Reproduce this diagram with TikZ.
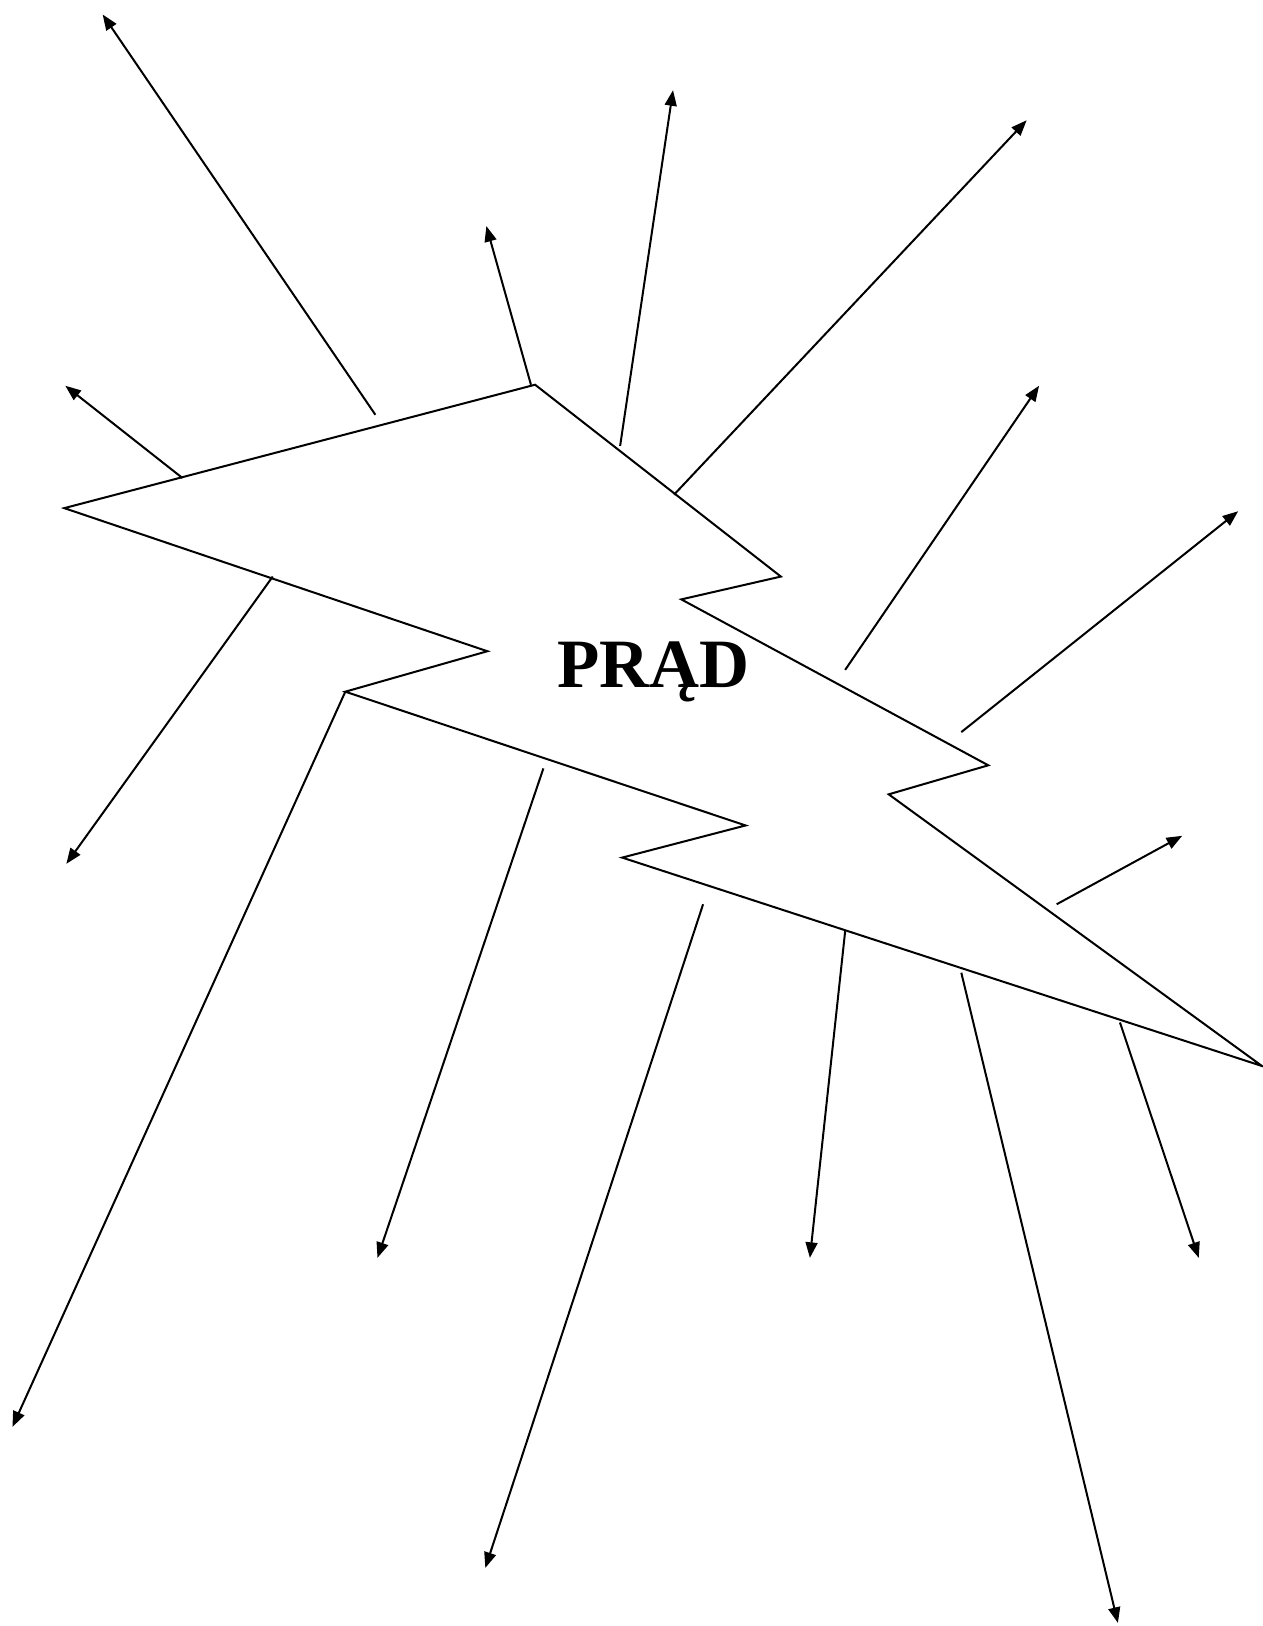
\documentclass[tikz,border=0pt]{standalone}
\usepackage{fontspec}
\setmainfont{Liberation Serif}
\usetikzlibrary{arrows.meta, positioning}

\begin{document}
\begin{tikzpicture}[x=0.02cm, y=-0.02cm, line width=1.1pt,
  ray/.style={-{Triangle[length=0.3cm, width=0.23cm]}},
  bolt/.style={draw, line join=miter}]
  \useasboundingbox (0,0) rectangle (1217,1568);

  % Bolt
  \draw [bolt] (62,490) -- (516,371) -- (753,556) -- (657,578) -- (953,738)
    -- (857,766) -- (1217,1028) -- (600,827) -- (719,796) -- (333,667)
    -- (470,628) -- cycle;

  % Label
  \node [anchor=base, font=\fontsize{38}{40}\selectfont\bfseries] (prad) at (630,663) {PRĄD};

  % Ray ends
  \coordinate (t1) at (362,400);   \coordinate (h1) at (99,14);
  \coordinate (t2) at (512,371);   \coordinate (h2) at (469,218);
  \coordinate (t3) at (598,430);   \coordinate (h3) at (649,87);
  \coordinate (t4) at (650,477);   \coordinate (h4) at (990,116);
  \coordinate (t5) at (176,461);   \coordinate (h5) at (63,372);
  \coordinate (t6) at (815,646);   \coordinate (h6) at (1002,372);
  \coordinate (t7) at (927,706);   \coordinate (h7) at (1194,493);
  \coordinate (t8) at (263,556);   \coordinate (h8) at (64,833);
  \coordinate (t9) at (333,667);   \coordinate (h9) at (12,1376);
  \coordinate (t10) at (524,741);  \coordinate (h10) at (364,1213);
  \coordinate (t11) at (678,872);  \coordinate (h11) at (468,1512);
  \coordinate (t12) at (1019,872); \coordinate (h12) at (1140,806);
  \coordinate (t13) at (815,898);  \coordinate (h13) at (781,1213);
  \coordinate (t14) at (927,938);  \coordinate (h14) at (1078,1565);
  \coordinate (t15) at (1080,986); \coordinate (h15) at (1156,1213);

  % Rays
  \foreach \i in {1,...,15}
    \draw [ray] (t\i) -- (h\i);
\end{tikzpicture}
\end{document}
